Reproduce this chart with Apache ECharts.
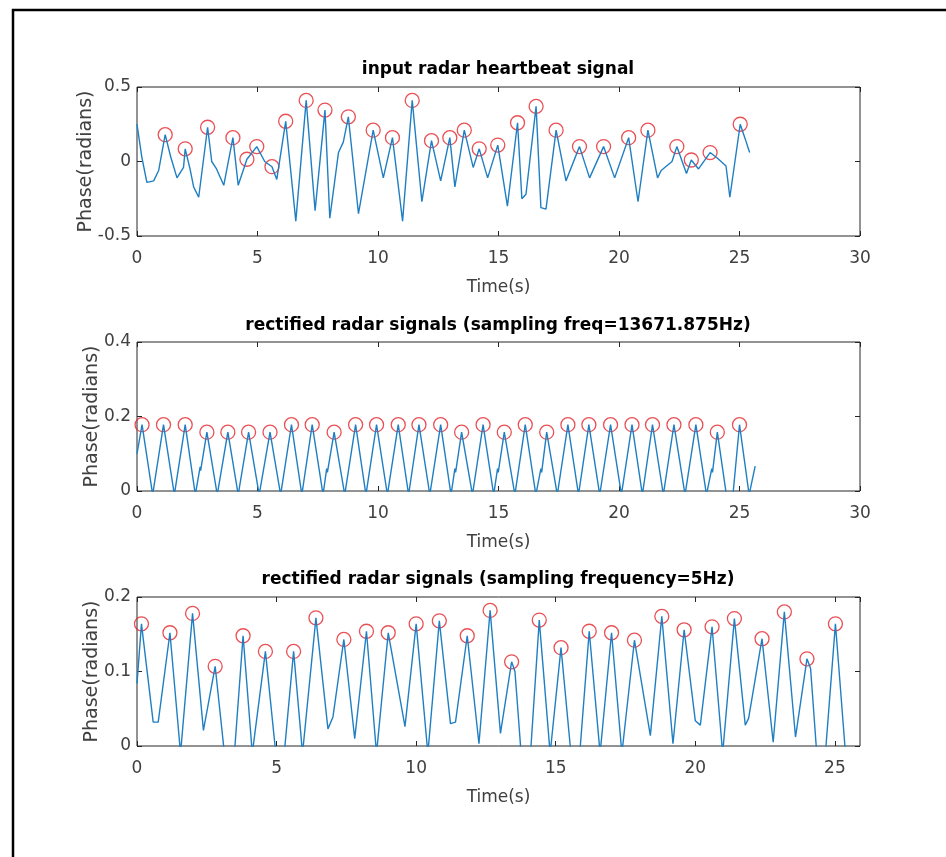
<!doctype html>
<html>
  <head>
    <meta charset="UTF-8" />
    <title>radar heartbeat</title>
    <style>
      html, body { margin: 0; padding: 0; background: #fff; }
      #chart { width: 946px; height: 857px; }
    </style>
  </head>
  <body>
    <div id="chart"></div>

    <script src="https://cdn.jsdelivr.net/npm/echarts@6/dist/echarts.min.js"></script>
    <script>
      // input radar heartbeat signal
      const rawT = [0, 0.2, 0.41, 0.69, 0.9, 1.17, 1.4, 1.66, 1.93, 2.0, 2.2, 2.35, 2.56, 2.93, 3.1, 3.3, 3.6, 3.98, 4.2, 4.56,
        4.97, 5.3, 5.6, 5.8, 6.17, 6.59, 7.02, 7.39, 7.8, 8.0, 8.36, 8.56, 8.77, 9.19, 9.8, 10.22, 10.6, 11.02, 11.42, 11.82,
        12.22, 12.6, 12.98, 13.19, 13.58, 13.95, 14.2, 14.55, 14.97, 15.37, 15.79, 15.97, 16.14, 16.56, 16.76, 16.97, 17.39,
        17.8, 18.36, 18.78, 19.36, 19.82, 20.4, 20.79, 21.2, 21.6, 21.75, 22.2, 22.4, 22.8, 23.0, 23.3, 23.78, 24.1, 24.44,
        24.6, 25.03, 25.24, 25.42]
      const rawV = [0.25, 0.03, -0.14, -0.13, -0.06, 0.18, 0.03, -0.11, -0.04, 0.085, -0.05, -0.17, -0.24, 0.23, 0.0, -0.05,
        -0.16, 0.16, -0.16, 0.015, 0.1, 0.0, -0.035, -0.12, 0.27, -0.4, 0.41, -0.33, 0.345, -0.38, 0.06, 0.13, 0.3, -0.35,
        0.21, -0.11, 0.16, -0.4, 0.41, -0.27, 0.14, -0.13, 0.16, -0.17, 0.21, -0.04, 0.085, -0.11, 0.11, -0.3, 0.26, -0.25,
        -0.22, 0.37, -0.31, -0.32, 0.21, -0.13, 0.1, -0.11, 0.1, -0.11, 0.16, -0.27, 0.21, -0.11, -0.06, 0.0, 0.1, -0.08,
        0.01, -0.05, 0.06, 0.02, -0.03, -0.24, 0.25, 0.15, 0.06]
      const rawPeakT = [1.17, 2.0, 2.93, 3.98, 4.56, 4.97, 5.6, 6.17, 7.02, 7.8, 8.77, 9.8, 10.6, 11.42, 12.22, 12.98, 13.58,
        14.2, 14.97, 15.79, 16.56, 17.39, 18.36, 19.36, 20.4, 21.2, 22.4, 23.0, 23.78, 25.03]
      const rawPeakV = [0.18, 0.085, 0.23, 0.16, 0.015, 0.1, -0.035, 0.27, 0.41, 0.345, 0.3, 0.21, 0.16, 0.41, 0.14, 0.16,
        0.21, 0.085, 0.11, 0.26, 0.37, 0.21, 0.1, 0.1, 0.16, 0.21, 0.1, 0.01, 0.06, 0.25]

      // rectified, sampling freq = 13671.875 Hz
      const hiT = [0, 0.21, 0.65, 1.1, 1.55, 2.0, 2.42, 2.62, 2.64, 2.9, 3.33, 3.77, 4.2, 4.63, 5.07, 5.52, 5.96, 6.41, 6.84,
        7.27, 7.72, 7.87, 7.9, 8.18, 8.62, 9.07, 9.5, 9.94, 10.39, 10.84, 11.27, 11.7, 12.15, 12.6, 13.03, 13.19, 13.22,
        13.47, 13.92, 14.36, 14.8, 14.96, 14.99, 15.24, 15.68, 16.11, 16.55, 16.76, 16.79, 17.0, 17.44, 17.88, 18.32, 18.75,
        19.2, 19.65, 20.1, 20.54, 20.97, 21.39, 21.84, 22.28, 22.74, 23.19, 23.63, 23.85, 23.88, 24.08, 24.5, 24.7, 25.0,
        25.4, 25.65]
      const hiV = [0.1, 0.178, -0.01, 0.178, -0.01, 0.178, -0.01, 0.065, 0.055, 0.158, -0.01, 0.158, -0.01, 0.158, -0.01,
        0.158, -0.01, 0.178, -0.01, 0.178, -0.01, 0.06, 0.05, 0.158, -0.01, 0.178, -0.01, 0.178, -0.01, 0.178, -0.01, 0.178,
        -0.01, 0.178, -0.01, 0.06, 0.05, 0.158, -0.01, 0.178, -0.01, 0.06, 0.05, 0.158, -0.01, 0.178, -0.01, 0.06, 0.05,
        0.158, -0.01, 0.178, -0.01, 0.178, -0.01, 0.178, -0.01, 0.178, -0.01, 0.178, -0.01, 0.178, -0.01, 0.178, -0.01,
        0.06, 0.05, 0.158, -0.03, -0.03, 0.178, -0.01, 0.067]
      const hiPeakT = [0.21, 1.1, 2.0, 2.9, 3.77, 4.63, 5.52, 6.41, 7.27, 8.18, 9.07, 9.94, 10.84, 11.7, 12.6, 13.47, 14.36,
        15.24, 16.11, 17.0, 17.88, 18.75, 19.65, 20.54, 21.39, 22.28, 23.19, 24.08, 25.0]
      const hiPeakV = [0.178, 0.178, 0.178, 0.158, 0.158, 0.158, 0.158, 0.178, 0.178, 0.158, 0.178, 0.178, 0.178, 0.178,
        0.178, 0.158, 0.178, 0.158, 0.178, 0.158, 0.178, 0.178, 0.178, 0.178, 0.178, 0.178, 0.178, 0.158, 0.178]

      // rectified, sampling frequency = 5 Hz
      const loT = [0, 0.16, 0.58, 0.76, 1.18, 1.56, 1.99, 2.38, 2.8, 3.16, 3.47, 3.8, 4.13, 4.6, 5.0, 5.25, 5.61, 5.93, 6.41,
        6.84, 7.02, 7.41, 7.8, 8.22, 8.58, 9.0, 9.6, 10.0, 10.42, 10.83, 11.23, 11.41, 11.83, 12.25, 12.65, 13.02, 13.42,
        13.54, 13.78, 14.08, 14.41, 14.8, 15.19, 15.57, 15.84, 16.2, 16.59, 17.0, 17.37, 17.82, 18.39, 18.8, 19.2, 19.6, 20.0,
        20.18, 20.6, 20.98, 21.4, 21.79, 21.91, 22.39, 22.79, 23.19, 23.59, 24.0, 24.13, 24.37, 24.64, 25.02, 25.38, 25.6]
      const loV = [0.084, 0.164, 0.032, 0.032, 0.152, -0.01, 0.178, 0.021, 0.107, -0.02, -0.02, 0.148, -0.01, 0.127, -0.02,
        -0.02, 0.127, -0.01, 0.172, 0.023, 0.039, 0.143, 0.01, 0.154, -0.01, 0.152, 0.026, 0.164, -0.01, 0.168, 0.03, 0.032,
        0.148, 0.003, 0.182, 0.017, 0.113, 0.1, -0.02, -0.02, 0.169, -0.01, 0.132, -0.02, -0.02, 0.154, -0.01, 0.152, -0.01,
        0.142, 0.014, 0.174, 0.003, 0.156, 0.034, 0.028, 0.16, -0.01, 0.171, 0.028, 0.037, 0.144, 0.005, 0.18, 0.012, 0.117,
        0.104, -0.02, -0.02, 0.164, -0.01, -0.02]
      const loPeakT = [0.16, 1.18, 1.99, 2.8, 3.8, 4.6, 5.61, 6.41, 7.41, 8.22, 9.0, 10.0, 10.83, 11.83, 12.65, 13.42, 14.41,
        15.19, 16.2, 17.0, 17.82, 18.8, 19.6, 20.6, 21.4, 22.39, 23.19, 24.0, 25.02]
      const loPeakV = [0.164, 0.152, 0.178, 0.107, 0.148, 0.127, 0.127, 0.172, 0.143, 0.154, 0.152, 0.164, 0.168, 0.148,
        0.182, 0.113, 0.169, 0.132, 0.154, 0.152, 0.142, 0.174, 0.156, 0.16, 0.171, 0.144, 0.18, 0.117, 0.164]

      const titles = [
        'input radar heartbeat signal',
        'rectified radar signals (sampling freq=13671.875Hz)',
        'rectified radar signals (sampling frequency=5Hz)'
      ]

      const pairs = (t, v) => t.map((x, i) => [x, v[i]])

      const lineColor = '#1f7fc2'
      const peakColor = '#e3242b'
      const axisColor = '#262626'
      const labelColor = '#404040'
      const font = 'DejaVu Sans'

      const grids = [
        { top: 87, xMax: 30, yMin: -0.5, yMax: 0.5, yStep: 0.5, nameGap: 41 },
        { top: 342, xMax: 30, yMin: 0, yMax: 0.4, yStep: 0.2, nameGap: 35 },
        { top: 597, xMax: 25.9, yMin: 0, yMax: 0.2, yStep: 0.1, nameGap: 35 }
      ]
      const signals = [
        [pairs(rawT, rawV), pairs(rawPeakT, rawPeakV)],
        [pairs(hiT, hiV), pairs(hiPeakT, hiPeakV)],
        [pairs(loT, loV), pairs(loPeakT, loPeakV)]
      ]

      const tick = { show: true, inside: true, length: 5, lineStyle: { color: axisColor } }
      const noLine = { show: false, onZero: false }
      const xAxis = []
      const yAxis = []
      const series = []

      grids.forEach((g, i) => {
        xAxis.push({
          gridIndex: i, type: 'value', position: 'bottom', min: 0, max: g.xMax, interval: 5,
          axisLine: noLine, axisTick: tick, splitLine: { show: false },
          axisLabel: { color: labelColor, fontFamily: font, fontSize: 17, margin: 14, showMaxLabel: g.xMax % 5 === 0 },
          name: 'Time(s)', nameLocation: 'middle', nameGap: 43,
          nameTextStyle: { color: labelColor, fontFamily: font, fontSize: 17 }
        })
        xAxis.push({
          gridIndex: i, type: 'value', position: 'top', min: 0, max: g.xMax, interval: 5,
          axisLine: noLine, axisTick: tick, splitLine: { show: false }, axisLabel: { show: false }
        })
        yAxis.push({
          gridIndex: i, type: 'value', position: 'left', min: g.yMin, max: g.yMax, interval: g.yStep,
          axisLine: noLine, axisTick: tick, splitLine: { show: false },
          axisLabel: { color: labelColor, fontFamily: font, fontSize: 17, margin: 6 },
          name: 'Phase(radians)', nameLocation: 'middle', nameGap: g.nameGap, nameMoveOverlap: false,
          nameTextStyle: { color: labelColor, fontFamily: font, fontSize: 19 }
        })
        yAxis.push({
          gridIndex: i, type: 'value', position: 'right', min: g.yMin, max: g.yMax, interval: g.yStep,
          axisLine: noLine, axisTick: tick, splitLine: { show: false }, axisLabel: { show: false }
        })
        series.push({
          type: 'line', xAxisIndex: 2 * i, yAxisIndex: 2 * i, data: signals[i][0],
          symbol: 'none', clip: true, lineStyle: { color: lineColor, width: 1.4 }
        })
        series.push({
          type: 'scatter', xAxisIndex: 2 * i, yAxisIndex: 2 * i, data: signals[i][1],
          symbol: 'circle', symbolSize: 14, clip: false,
          itemStyle: { color: 'rgba(0,0,0,0)', borderColor: peakColor, borderWidth: 1.3 }
        })
      })

      const myChart = echarts.init(document.querySelector('#chart'))
      myChart.setOption({
        animation: false,
        backgroundColor: '#fff',
        title: titles.map((text, i) => ({
          text, left: 498, textAlign: 'center', top: [61, 317, 571][i], padding: 0,
          textStyle: { color: '#000', fontFamily: font, fontSize: 17, fontWeight: 'bold' }
        })),
        grid: grids.map((g) => ({
          left: 137, width: 723, top: g.top, height: 149,
          show: true, borderColor: axisColor, borderWidth: 1, backgroundColor: '#fff'
        })),
        xAxis,
        yAxis,
        series,
        graphic: [{
          type: 'rect', shape: { x: 13, y: 10, width: 1000, height: 900 },
          style: { fill: 'none', stroke: '#000', lineWidth: 2.5 }, silent: true
        }]
      })
    </script>
  </body>
</html>
